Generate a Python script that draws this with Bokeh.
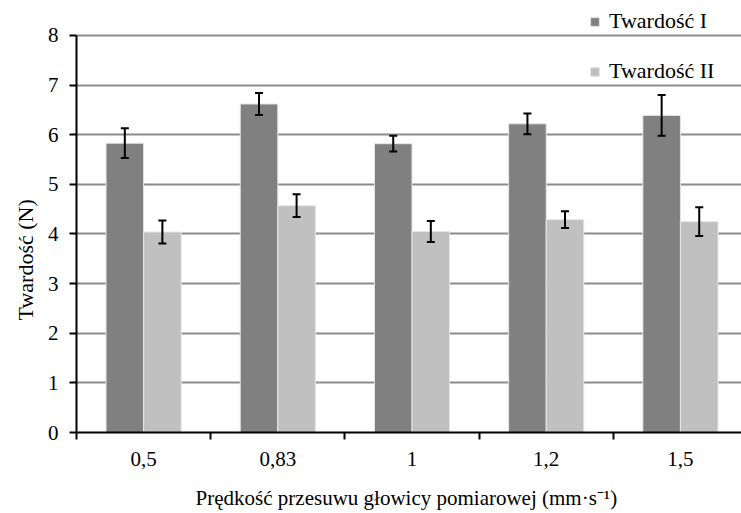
import numpy as np
from bokeh.plotting import figure
from bokeh.models import (ColumnDataSource, Range1d, FixedTicker, Whisker, TeeHead,
                          Legend, LegendItem, Title)
from bokeh.embed import file_html
from bokeh.resources import INLINE

speeds = ["0,5", "0,83", "1", "1,2", "1,5"]
hard_1 = [5.83, 6.62, 5.82, 6.22, 6.39]
hard_1_err = [0.30, 0.22, 0.16, 0.21, 0.41]
hard_2 = [4.04, 4.57, 4.05, 4.29, 4.25]
hard_2_err = [0.23, 0.23, 0.21, 0.17, 0.29]
y_ticks = [0, 1, 2, 3, 4, 5, 6, 7, 8]

FONT = "serif"
FS = "22px"
DARK = "#808080"
LIGHT = "#c0c0c0"
BW = 0.28

centers = np.arange(len(speeds)) + 0.5
x1 = centers - BW / 2
x2 = centers + BW / 2

s1 = ColumnDataSource(dict(x=x1, top=hard_1,
                           upper=np.array(hard_1) + np.array(hard_1_err),
                           lower=np.array(hard_1) - np.array(hard_1_err)))
s2 = ColumnDataSource(dict(x=x2, top=hard_2,
                           upper=np.array(hard_2) + np.array(hard_2_err),
                           lower=np.array(hard_2) - np.array(hard_2_err)))

# frame spans from the top of the page; the value axis is bounded to 0..8
p = figure(width=741, height=513, x_range=Range1d(0, 4.955), y_range=Range1d(0, 8.705),
           output_backend="svg", toolbar_location=None,
           min_border_left=76, min_border_right=0, min_border_top=0, min_border_bottom=81)
p.outline_line_color = None
p.background_fill_color = "white"

r1 = p.vbar(x="x", top="top", width=BW, bottom=0, source=s1, fill_color=DARK,
            line_color="#e6e6e6", line_width=1)
r2 = p.vbar(x="x", top="top", width=BW, bottom=0, source=s2, fill_color=LIGHT,
            line_color="#e6e6e6", line_width=1)

for src in (s1, s2):
    p.add_layout(Whisker(base="x", upper="upper", lower="lower", source=src,
                         level="overlay", line_color="black", line_width=2,
                         upper_head=TeeHead(size=8, line_width=2, line_color="black"),
                         lower_head=TeeHead(size=8, line_width=2, line_color="black")))

# grid
p.xgrid.grid_line_color = None
p.ygrid.grid_line_color = "#8c8c8c"
p.ygrid.grid_line_width = 2
p.ygrid.ticker = FixedTicker(ticks=y_ticks)

# x axis
xa = p.xaxis[0]
xa.ticker = FixedTicker(ticks=list(centers), minor_ticks=list(range(len(speeds) + 1)))
xa.major_label_overrides = {float(c): s for c, s in zip(centers, speeds)}
xa.major_tick_line_color = None
xa.minor_tick_line_color = "black"
xa.minor_tick_line_width = 2
xa.minor_tick_out = 7
xa.minor_tick_in = 0
xa.axis_line_color = "black"
xa.axis_line_width = 2
xa.major_label_standoff = 12
xa.major_label_text_font = FONT
xa.major_label_text_font_style = "normal"
xa.major_label_text_font_size = "21px"
xa.major_label_text_color = "black"
xa.axis_label = "Prędkość przesuwu głowicy pomiarowej  (mm·s⁻¹)"
xa.axis_label_text_font = FONT
xa.axis_label_text_font_size = "21px"
xa.axis_label_text_font_style = "normal"
xa.axis_label_text_color = "black"
xa.axis_label_standoff = 17

# y axis
ya = p.yaxis[0]
ya.bounds = (0, 8)
ya.ticker = FixedTicker(ticks=y_ticks)
ya.minor_tick_line_color = None
ya.major_tick_line_color = "black"
ya.major_tick_line_width = 2
ya.major_tick_out = 7
ya.major_tick_in = 0
ya.axis_line_color = "black"
ya.axis_line_width = 2
ya.major_label_standoff = 11
ya.major_label_text_font = FONT
ya.major_label_text_font_style = "normal"
ya.major_label_text_font_size = "21px"
ya.major_label_text_color = "black"

ytitle = Title(text="Twardość (N)", align="left", offset=112, vertical_align="top",
               text_font=FONT, text_font_size=FS, text_font_style="normal",
               text_color="black", standoff=10)
p.add_layout(ytitle, "left")

legend = Legend(items=[LegendItem(label="Twardość I", renderers=[r1]),
                       LegendItem(label="Twardość II", renderers=[r2])],
                location=(513, 348), orientation="vertical",
                background_fill_alpha=0, border_line_alpha=0,
                padding=0, margin=0, spacing=24,
                glyph_width=11, glyph_height=11, label_standoff=9,
                label_text_font=FONT, label_text_font_size=FS, label_text_color="black")
p.add_layout(legend, "center")

open("out.html", "w").write(file_html(p, INLINE))
